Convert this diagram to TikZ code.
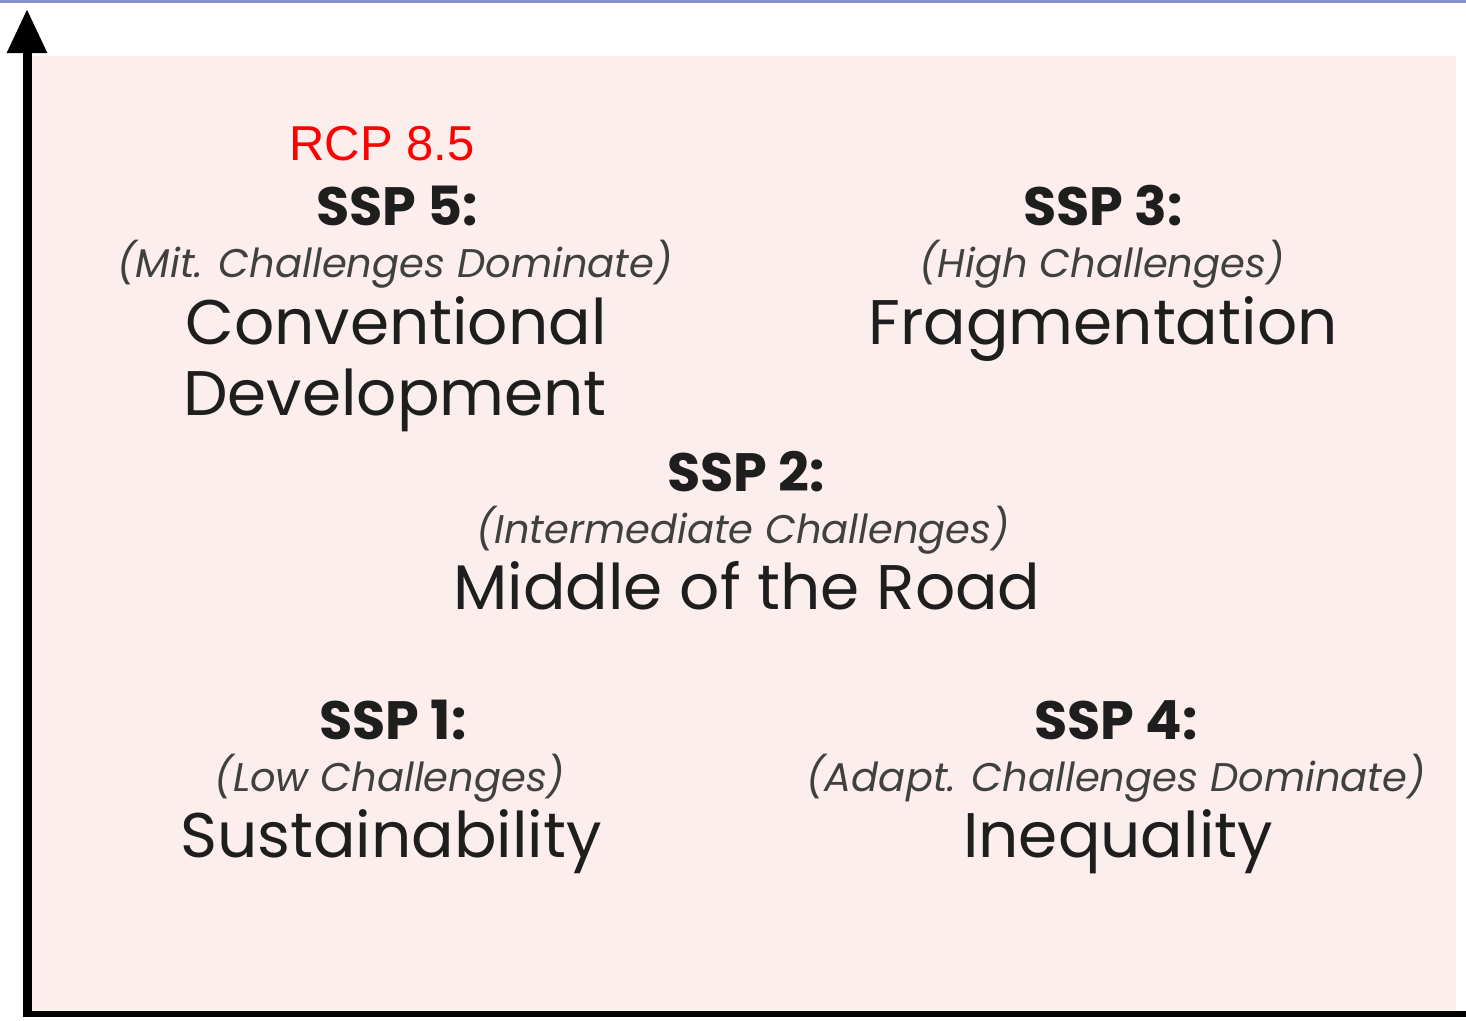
\documentclass[tikz,border=0pt]{standalone}
\usepackage{fontspec}
\setmainfont{Poppins}
\newfontfamily\rcpfont{Liberation Sans}
\usetikzlibrary{arrows.meta}
\definecolor{bgpink}{HTML}{FCEEEC}
\definecolor{topblue}{HTML}{8A94C8}
\definecolor{txt}{HTML}{1E1E1E}
\tikzset{
  lbl/.style={anchor=base, inner sep=0pt, text=txt},
  ssp/.style={lbl, font=\fontsize{54}{54}\selectfont\bfseries},
  sub/.style={lbl, text=black!75, font=\fontsize{40}{40}\selectfont\itshape},
  big/.style={lbl, font=\fontsize{63}{63}\selectfont},
  rcp/.style={lbl, text=red, font=\fontsize{49}{49}\selectfont\rcpfont},
  axis/.style={line width=9pt, black}
}
\begin{document}
\begin{tikzpicture}[x=1pt,y=-1pt]
\useasboundingbox (0,0) rectangle (1466,1020);
\fill[white] (0,0) rectangle (1466,1020);
\fill[topblue] (0,0) rectangle (1466,2.5);
\fill[bgpink] (30,56) rectangle (1456,1012);
% axes
\coordinate (origin) at (27,1014);
\coordinate (ytop) at (27,9);
\coordinate (xend) at (1466,1014);
\draw[axis, -{Triangle[width=38pt,length=44pt]}] (origin) -- (ytop);
\draw[line width=6pt] ([xshift=-4pt]origin) -- (xend);
% texts
\node[rcp] (rcp) at (382,160) {RCP 8.5};
\node[ssp] (s5) at (397,225) {SSP 5:};
\node[sub] (s5a) at (395,277) {(Mit. Challenges Dominate)};
\node[big] (s5b) at (396,344) {Conventional};
\node[big] (s5c) at (395,415) {Development};

\node[ssp] (s3) at (1103,225) {SSP 3:};
\node[sub] (s3a) at (1102,277) {(High Challenges)};
\node[big] (s3b) at (1103,344) {Fragmentation};

\node[ssp] (s2) at (746,491) {SSP 2:};
\node[sub] (s2a) at (743,543) {(Intermediate Challenges)};
\node[big] (s2b) at (747,609) {Middle of the Road};

\node[ssp] (s1) at (393,739) {SSP 1:};
\node[sub] (s1a) at (390,791) {(Low Challenges)};
\node[big] (s1b) at (391,857) {Sustainability};

\node[ssp] (s4) at (1116,739) {SSP 4:};
\node[sub] (s4a) at (1116,791) {(Adapt. Challenges Dominate)};
\node[big] (s4b) at (1118,857) {Inequality};
\end{tikzpicture}
\end{document}
